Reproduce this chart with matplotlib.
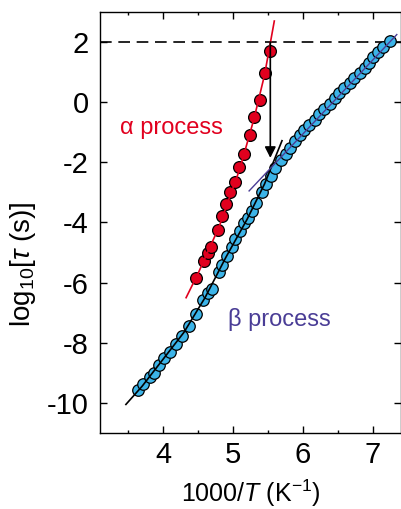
# relaxation map: alpha and beta process, log10 tau vs 1000/T

import matplotlib
matplotlib.use('Agg')
import matplotlib.pyplot as plt
from matplotlib.ticker import MultipleLocator

plt.rcParams['font.family'] = ['Liberation Sans', 'DejaVu Sans']
plt.rcParams['mathtext.fontset'] = 'custom'
plt.rcParams['mathtext.rm'] = 'Liberation Sans'
plt.rcParams['mathtext.it'] = 'Liberation Sans:italic'
plt.rcParams['axes.unicode_minus'] = False

# alpha process points
alpha_x = [4.47, 4.58, 4.64, 4.69, 4.79, 4.84, 4.90, 4.96, 5.03, 5.09, 5.16,
           5.25, 5.30, 5.38, 5.45, 5.53]
alpha_y = [-5.85, -5.28, -5.02, -4.82, -4.26, -3.78, -3.40, -3.00, -2.65, -2.15,
           -1.71, -1.10, -0.50, 0.09, 0.97, 1.71]

# beta process points
beta_x = [3.64, 3.72, 3.81, 3.87, 3.95, 4.02, 4.10, 4.19, 4.27, 4.37, 4.47, 4.57,
          4.64, 4.70, 4.80, 4.85, 4.91, 4.99, 5.03, 5.10, 5.16, 5.21, 5.27, 5.33,
          5.41, 5.47, 5.54, 5.60, 5.68, 5.75, 5.82, 5.89, 5.96, 6.02, 6.09, 6.17,
          6.23, 6.30, 6.38, 6.45, 6.52, 6.59, 6.67, 6.73, 6.81, 6.88, 6.94, 7.00,
          7.07, 7.14, 7.24]
beta_y = [-9.57, -9.37, -9.15, -8.99, -8.73, -8.51, -8.29, -8.04, -7.77, -7.44,
          -7.03, -6.58, -6.36, -6.20, -5.66, -5.42, -5.11, -4.81, -4.54, -4.27,
          -4.02, -3.84, -3.61, -3.34, -3.00, -2.73, -2.45, -2.18, -1.93, -1.71,
          -1.51, -1.29, -1.10, -0.93, -0.77, -0.59, -0.40, -0.22, -0.05, 0.13,
          0.30, 0.48, 0.63, 0.79, 0.98, 1.15, 1.31, 1.50, 1.68, 1.84, 2.03]

# fit curves
alpha_fit_x = [4.33, 4.5, 4.8, 5.1, 5.3, 5.45, 5.59]
alpha_fit_y = [-6.5, -5.7, -4.15, -2.2, -0.55, 0.9, 2.7]
low_fit_x = [3.47, 3.7, 4.0, 4.3, 4.6, 4.9, 5.2, 5.45, 5.7]
low_fit_y = [-10.05, -9.45, -8.55, -7.65, -6.5, -5.15, -3.9, -2.72, -1.28]
beta_fit_x = [5.23, 7.34]
beta_fit_y = [-2.95, 2.25]

dashed_level = 2
arrow_x = 5.533
arrow_top = 2.0
arrow_bottom = -1.85

red = '#e1001e'
blue = '#3cb4e8'
purple = '#4a3d96'

fig = plt.figure(figsize=(4.01, 5.09), dpi=100)
ax = fig.add_axes([100 / 401, 76 / 509, 301 / 401, 421 / 509])

ax.axhline(dashed_level, color='black', lw=1.2, dashes=(7, 4), zorder=1)

ax.plot(beta_x, beta_y, 'o', ms=8.3, mfc=blue, mec='black', mew=0.9, zorder=2)
ax.plot(alpha_x, alpha_y, 'o', ms=8.5, mfc=red, mec='black', mew=0.9, zorder=2)

ax.plot(alpha_fit_x, alpha_fit_y, color=red, lw=1.2, zorder=3)
ax.plot(low_fit_x, low_fit_y, color='black', lw=1.2, zorder=3)
ax.plot(beta_fit_x, beta_fit_y, color=purple, lw=1.0, zorder=3)

ax.annotate('', xy=(arrow_x, arrow_bottom), xytext=(arrow_x, arrow_top),
            arrowprops=dict(arrowstyle='-|>,head_length=0.65,head_width=0.33',
                            color='black', lw=1.2, mutation_scale=10,
                            shrinkA=0, shrinkB=0), zorder=4)

ax.text(3.39, -0.86, '\u03b1 process', color=red, fontsize=17, va='center')
ax.text(4.93, -7.21, '\u03b2 process', color=purple, fontsize=17, va='center')

ax.set_xlim(3.1, 7.4)
ax.set_ylim(-11, 3)
ax.xaxis.set_major_locator(MultipleLocator(1))
ax.xaxis.set_minor_locator(MultipleLocator(0.5))
ax.yaxis.set_major_locator(MultipleLocator(2))
ax.tick_params(which='both', direction='in', top=True, right=True, width=1)
ax.tick_params(which='major', length=5, labelsize=21)
ax.tick_params(which='minor', length=2.5)
ax.tick_params(axis='y', pad=8)
ax.tick_params(axis='x', pad=6)
for s in ax.spines.values():
    s.set_linewidth(1)

ax.set_xlabel('1000/$T$ (K$^{-1}$)', fontsize=18)
ax.set_ylabel(r'log$_{10}$[$\tau$ (s)]', fontsize=20)
ax.xaxis.set_label_coords(0.5, -0.105)
ax.yaxis.set_label_coords(-0.205, 0.40)

fig.savefig('out.png', dpi=100)
